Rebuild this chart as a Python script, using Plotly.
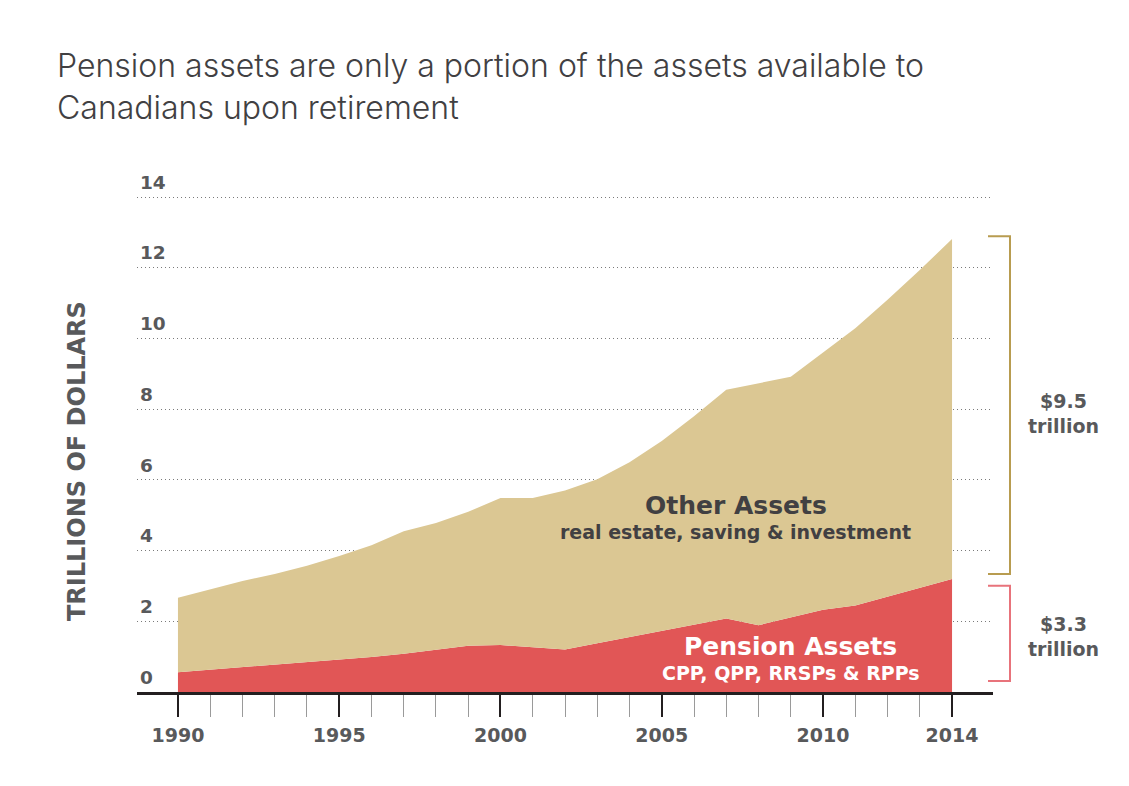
import plotly.graph_objects as go

# ---------------- data (trillions of dollars) ----------------
years = list(range(1990, 2015))
pension = [0.56, 0.63, 0.70, 0.77, 0.84, 0.92, 0.99, 1.08, 1.20, 1.31,
           1.33, 1.27, 1.20, 1.38, 1.56, 1.73, 1.91, 2.08, 1.89, 2.12,
           2.33, 2.45, 2.70, 2.95, 3.20]
total = [2.67, 2.91, 3.14, 3.34, 3.57, 3.85, 4.15, 4.55, 4.78, 5.10,
         5.49, 5.49, 5.70, 6.02, 6.50, 7.10, 7.80, 8.55, 8.73, 8.92,
         9.61, 10.29, 11.10, 11.94, 12.82]
major_years = [1990, 1995, 2000, 2005, 2010, 2014]
y_ticks = [0, 2, 4, 6, 8, 10, 12, 14]

title_text = "Pension assets are only a portion of the assets available to<br>Canadians upon retirement"
y_title = "TRILLIONS OF DOLLARS"
other_label = "Other Assets"
other_sub = "real estate, saving & investment"
pension_label = "Pension Assets"
pension_sub = "CPP, QPP, RRSPs & RPPs"
other_bracket_text = "$9.5<br>trillion"
pension_bracket_text = "$3.3<br>trillion"

# ---------------- styling ----------------
TAN = "#DBC793"
RED = "#E15656"
GREY = "#58595B"
DARK = "#414042"
FONT = "Inter"
BFONT = "DejaVu Sans"

fig = go.Figure()
fig.add_trace(go.Scatter(x=years, y=pension, mode="lines", line=dict(width=0),
                         fill="tozeroy", fillcolor=RED, hoverinfo="skip",
                         showlegend=False))
fig.add_trace(go.Scatter(x=years, y=total, mode="lines", line=dict(width=0),
                         fill="tonexty", fillcolor=TAN, hoverinfo="skip",
                         showlegend=False))

L, R, T, B = 137, 136, 169, 94
W, H = 1129, 786
PW, PH = W - L - R, H - T - B

fig.update_layout(
    width=W, height=H,
    margin=dict(l=L, r=R, t=T, b=B),
    paper_bgcolor="white", plot_bgcolor="white",
    showlegend=False,
    font=dict(family=BFONT, color=GREY),
)

fig.update_xaxes(
    range=[1988.73, 2015.27],
    showgrid=False, zeroline=False,
    showline=True, linecolor="#231F20", linewidth=3,
    tickmode="array", tickvals=major_years,
    ticks="outside", ticklen=22, tickwidth=2, tickcolor="#231F20",
    tickfont=dict(family=BFONT, size=19, color=GREY, weight="bold"),
    ticklabelstandoff=2,
    minor=dict(tickmode="array", tickvals=years, ticks="outside",
               ticklen=22, tickwidth=1, tickcolor="#9a9a9a", showgrid=False),
    fixedrange=True,
)

fig.update_yaxes(
    range=[0, 14.8],
    tickmode="array", tickvals=y_ticks,
    showgrid=True, griddash="1px,3px", gridcolor="#7a7a7a", gridwidth=1,
    zeroline=False, showline=False, ticks="",
    ticklabelposition="inside top",
    ticklabelshift=-2,
    tickfont=dict(family=BFONT, size=18.5, color=GREY, weight="bold"),
    fixedrange=True,
)

ann = []
# title
ann.append(dict(text=title_text, xref="paper", yref="paper",
                x=(55 - L) / PW, y=(H - B - 44) / PH,
                xanchor="left", yanchor="top", align="left", showarrow=False,
                font=dict(family=FONT, size=32, color=DARK, weight=300)))
# y axis title
ann.append(dict(text=y_title, xref="paper", yref="paper",
                x=(77 - L) / PW, y=(H - B - 461) / PH,
                xanchor="center", yanchor="middle", textangle=-90,
                showarrow=False,
                font=dict(family=BFONT, size=24, color=GREY, weight="bold")))
# area labels
ann.append(dict(text=other_label, x=2007.3, y=5.29, xref="x", yref="y",
                xanchor="center", showarrow=False,
                font=dict(family=BFONT, size=25, color=DARK, weight="bold")))
ann.append(dict(text=other_sub, x=2007.3, y=4.53, xref="x", yref="y",
                xanchor="center", showarrow=False,
                font=dict(family=BFONT, size=19, color=DARK, weight="bold")))
ann.append(dict(text=pension_label, x=2009.0, y=1.30, xref="x", yref="y",
                xanchor="center", showarrow=False,
                font=dict(family=BFONT, size=25, color="white", weight="bold")))
ann.append(dict(text=pension_sub, x=2009.0, y=0.54, xref="x", yref="y",
                xanchor="center", showarrow=False,
                font=dict(family=BFONT, size=19, color="white", weight="bold")))

# brackets
bx0 = (988 - L) / PW
bx1 = (1010 - L) / PW
tan_top = total[-1] + 0.08
tan_bot = pension[-1] + 0.14
red_top = pension[-1] - 0.19
red_bot = 0.31
shapes = [
    dict(type="path", xref="paper", yref="y",
         path=f"M {bx0},{tan_top} L {bx1},{tan_top} L {bx1},{tan_bot} L {bx0},{tan_bot}",
         line=dict(color="#B89C50", width=2)),
    dict(type="path", xref="paper", yref="y",
         path=f"M {bx0},{red_top} L {bx1},{red_top} L {bx1},{red_bot} L {bx0},{red_bot}",
         line=dict(color="#E8737B", width=2)),
]
lx = (1063 - L) / PW
ann.append(dict(text=other_bracket_text, xref="paper", yref="y", x=lx,
                y=(tan_top + tan_bot) / 2 - 0.25, xanchor="center",
                showarrow=False,
                font=dict(family=BFONT, size=19, color=GREY, weight="bold")))
ann.append(dict(text=pension_bracket_text, xref="paper", yref="y", x=lx,
                y=(red_top + red_bot) / 2 - 0.1, xanchor="center",
                showarrow=False,
                font=dict(family=BFONT, size=19, color=GREY, weight="bold")))

fig.update_layout(annotations=ann, shapes=shapes)

fig.write_html("out.html")
